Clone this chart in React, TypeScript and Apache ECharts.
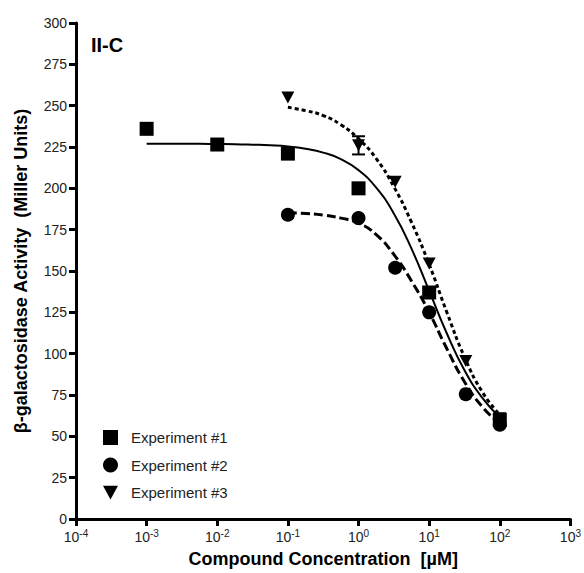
import React, { useEffect, useRef } from "react";
import * as echarts from "echarts";

// Measured points (concentration in µM, activity in Miller units)
const exp1Conc = [0.001, 0.01, 0.1, 1, 10, 100];
const exp1Act = [236, 226.5, 221, 200, 137, 60];

const exp2Conc = [0.1, 1, 3.3, 10, 33, 100];
const exp2Act = [184, 182, 152, 125, 75.5, 57];

const exp3Conc = [0.1, 1, 3.3, 10, 33, 100];
const exp3Act = [255, 226, 204, 154.5, 95.5, 61];

// Error bar on experiment #3 at 1 µM: [conc, low, high]
const exp3Err = [[1, 220.5, 231.5]];

// Fitted dose-response curves, sampled every quarter decade
const fit1Conc = [0.001, 0.00178, 0.00316, 0.00562, 0.01, 0.0178, 0.0316, 0.0562, 0.1, 0.178, 0.316, 0.562, 1, 1.78, 3.16, 5.62, 10, 17.8, 31.6, 56.2, 100];
const fit1Act = [227, 227, 226.9, 226.9, 226.8, 226.7, 226.4, 226, 225.3, 223.9, 221.6, 217.7, 211, 200.4, 184.8, 163.5, 138, 112.2, 90, 73.4, 61.5];

const fit2Conc = [0.1, 0.178, 0.316, 0.562, 1, 1.78, 3.16, 5.62, 10, 17.8, 31.6, 56.2, 100];
const fit2Act = [185.3, 184.8, 183.8, 182, 179, 172, 160, 144, 125, 103, 83, 68, 57.5];

const fit3Conc = [0.1, 0.178, 0.316, 0.562, 1, 1.78, 3.16, 5.62, 10, 17.8, 31.6, 56.2, 100];
const fit3Act = [249, 247, 244, 238.5, 230, 218, 201, 179.5, 154, 125, 98, 77, 63];

const seriesNames = ["Experiment #1", "Experiment #2", "Experiment #3"];
const yTicks = { min: 0, max: 300, interval: 25 };
const xRange = { min: 1e-4, max: 1e3 };

const FONT = "'Liberation Sans', Arial, Helvetica, sans-serif";
const TRI_DOWN = "path://M0,0L12,0L6,11Z";

const pairs = (xs: number[], ys: number[]) => xs.map((x, i) => [x, ys[i]]);

export default function App() {
  const ref = useRef<HTMLDivElement>(null);

  useEffect(() => {
    document.body.style.margin = "0";
    const chart = echarts.init(ref.current!, null, { renderer: "svg" });

    const marker = { color: "#000", opacity: 1 };

    const option: any = {
      animation: false,
      backgroundColor: "#ffffff",
      textStyle: { fontFamily: FONT },
      title: {
        text: "II-C",
        left: 91,
        top: 35,
        padding: 0,
        textStyle: { fontFamily: FONT, fontSize: 20, fontWeight: "bold", color: "#000" },
      },
      grid: { left: 76, right: 12, top: 23, bottom: 53 },
      legend: {
        orient: "vertical",
        left: 103,
        top: 430,
        padding: 0,
        itemWidth: 15,
        itemHeight: 15,
        itemGap: 12.5,
        selectedMode: false,
        data: [
          { name: seriesNames[0], icon: "rect" },
          { name: seriesNames[1], icon: "circle" },
          { name: seriesNames[2], icon: TRI_DOWN },
        ],
        textStyle: { fontFamily: FONT, fontSize: 15, color: "#222", padding: [0, 0, 0, 8] },
      },
      xAxis: {
        type: "log",
        logBase: 10,
        min: xRange.min,
        max: xRange.max,
        splitNumber: 7,
        name: "Compound Concentration  [µM]",
        nameLocation: "middle",
        nameGap: 31,
        nameTextStyle: { fontFamily: FONT, fontSize: 18, fontWeight: "bold", color: "#000" },
        axisLine: { show: true, onZero: false, lineStyle: { color: "#000", width: 3, opacity: 1 } },
        axisTick: { show: true, length: 7, lineStyle: { color: "#000", width: 3, opacity: 1 } },
        minorTick: { show: false },
        splitLine: { show: false },
        axisLabel: {
          margin: 9,
          showMinLabel: true,
          showMaxLabel: true,
          formatter: (v: number) => {
            const e = Math.round(Math.log10(v));
            return "{b|10}{s|" + e + "}";
          },
          rich: {
            b: { fontFamily: FONT, fontSize: 14, color: "#222", lineHeight: 16, verticalAlign: "bottom" },
            s: { fontFamily: FONT, fontSize: 10, color: "#222", lineHeight: 16, verticalAlign: "top" },
          },
        },
      },
      yAxis: {
        type: "value",
        min: yTicks.min,
        max: yTicks.max,
        interval: yTicks.interval,
        name: "β-galactosidase Activity  (Miller Units)",
        nameLocation: "middle",
        nameGap: 46,
        nameTextStyle: { fontFamily: FONT, fontSize: 18, fontWeight: "bold", color: "#000" },
        axisLine: { show: true, lineStyle: { color: "#000", width: 3, opacity: 1 } },
        axisTick: { show: true, length: 7, lineStyle: { color: "#000", width: 3, opacity: 1 } },
        splitLine: { show: false },
        axisLabel: { margin: 9, fontFamily: FONT, fontSize: 14, color: "#222" },
      },
      series: [
        {
          name: "Experiment #1 fit",
          type: "line",
          data: pairs(fit1Conc, fit1Act),
          smooth: 0.5,
          showSymbol: false,
          lineStyle: { color: "#000", width: 2 },
          z: 2,
        },
        {
          name: "Experiment #2 fit",
          type: "line",
          data: pairs(fit2Conc, fit2Act),
          smooth: 0.5,
          showSymbol: false,
          lineStyle: { color: "#000", width: 3, type: [9, 4] },
          z: 2,
        },
        {
          name: "Experiment #3 fit",
          type: "line",
          data: pairs(fit3Conc, fit3Act),
          smooth: 0.5,
          showSymbol: false,
          lineStyle: { color: "#000", width: 3, type: [4, 3] },
          z: 2,
        },
        {
          name: "Experiment #3 error",
          type: "custom",
          encode: { x: 0, y: [1, 2] },
          data: exp3Err,
          renderItem: (params: any, api: any) => {
            const lo = api.coord([api.value(0), api.value(1)]);
            const hi = api.coord([api.value(0), api.value(2)]);
            const half = 6.5;
            const style = { stroke: "#000", lineWidth: 2 };
            return {
              type: "group",
              children: [
                { type: "line", shape: { x1: lo[0], y1: lo[1], x2: hi[0], y2: hi[1] }, style },
                { type: "line", shape: { x1: lo[0] - half, y1: lo[1], x2: lo[0] + half, y2: lo[1] }, style },
                { type: "line", shape: { x1: hi[0] - half, y1: hi[1], x2: hi[0] + half, y2: hi[1] }, style },
              ],
            };
          },
          z: 3,
        },
        {
          name: seriesNames[0],
          type: "scatter",
          data: pairs(exp1Conc, exp1Act),
          symbol: "rect",
          symbolSize: 14,
          itemStyle: marker,
          z: 5,
        },
        {
          name: seriesNames[1],
          type: "scatter",
          data: pairs(exp2Conc, exp2Act),
          symbol: "circle",
          symbolSize: 14,
          itemStyle: marker,
          z: 5,
        },
        {
          name: seriesNames[2],
          type: "scatter",
          data: pairs(exp3Conc, exp3Act),
          symbol: TRI_DOWN,
          symbolSize: [13, 12],
          itemStyle: marker,
          z: 5,
        },
      ],
    };

    chart.setOption(option);
    return () => chart.dispose();
  }, []);

  return (
    <div
      ref={ref}
      style={{ position: "absolute", left: 0, top: 0, width: 584, height: 573 }}
    />
  );
}
